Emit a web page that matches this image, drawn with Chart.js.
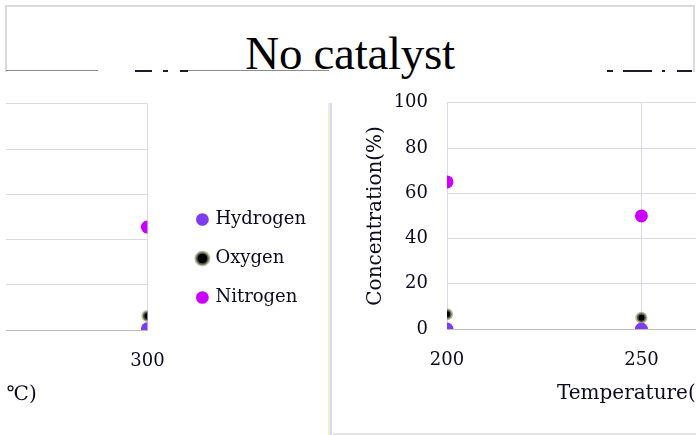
<!DOCTYPE html>
<html>
<head>
<meta charset="utf-8">
<script src="https://cdn.jsdelivr.net/npm/chart.js@4"></script>
<style>
  html, body { margin: 0; padding: 0; background: #fff; }
  body { width: 696px; height: 435px; position: relative; overflow: hidden; }
  .titlebox { position: absolute; left: 5px; top: 5px; width: 686px; height: 65px;
              border: 2px solid #dadada; border-bottom: none; }
  .title { position: absolute; left: 5px; width: 690px; top: 26px; line-height: 47px;
           text-align: center; font: 47px "Liberation Serif", serif; color: #000; letter-spacing: -0.3px; }
  .rule { position: absolute; height: 1px; background: #8c8c8c; top: 70px; }
  .frag { position: absolute; height: 2px; background: #1c1c2c; top: 70px; }
  .clip { position: absolute; overflow: hidden; }
  .clip canvas { position: absolute; top: 0; }
  .divider { position: absolute; left: 328px; top: 103px; width: 4px; height: 332px;
             background: linear-gradient(to right, #efeed4 0 2px, #d8d8ee 2px 4px); }
  .boxline { position: absolute; left: 333px; top: 433px; width: 363px; height: 2px; background: #e4e4e4; }
</style>
</head>
<body>
<div class="titlebox"></div>
<div class="title">No catalyst</div>
<div class="rule" style="left:6px;width:92px"></div>
<div class="rule" style="left:187px;width:142px"></div>
<div class="frag" style="left:135px;width:17px"></div>
<div class="frag" style="left:163px;width:5px"></div>
<div class="frag" style="left:180px;width:8px"></div>
<div class="frag" style="left:607px;width:6px"></div>
<div class="frag" style="left:623px;width:29px"></div>
<div class="frag" style="left:662px;width:3px"></div>
<div class="frag" style="left:677px;width:15px"></div>

<div class="clip" style="left:6px;top:93px;width:322px;height:342px">
  <canvas id="left" width="687" height="341" style="left:-363px;width:687px;height:341px"></canvas>
</div>
<div class="divider"></div>
<div class="clip" style="left:332px;top:92px;width:364px;height:341px">
  <canvas id="right" width="520" height="341" style="left:1px;width:520px;height:341px"></canvas>
</div>
<div class="boxline"></div>

<script>
// ── Dados ──
const temps    = [200, 250, 300];
const hydrogen = [0, 0, 0.5];
const oxygen   = [6.5, 5, 6.2];
const nitrogen = [65, 50, 45.5];
const seriesNames = ['Hydrogen', 'Oxygen', 'Nitrogen'];
const xTicks = [200, 250, 300];
const yTicks = [0, 20, 40, 60, 80, 100];

const TEXT = '#0a0a22';
const SERIF = '"DejaVu Serif", serif';

// ── Estilo das séries ──
const styles = [
  { bg: '#7d3cf0', border: '#7d3cf0', r: 6.5, bw: 0 },
  { bg: '#000000', border: 'rgba(140,140,100,0.65)', r: 4.5, bw: 3 },
  { bg: '#cc00ff', border: '#cc00ff', r: 6.5, bw: 0 },
];

function buildDatasets() {
  return [hydrogen, oxygen, nitrogen].map((vals, i) => ({
    label: seriesNames[i],
    data: temps.map((t, k) => ({ x: t, y: vals[k] })),
    backgroundColor: styles[i].bg,
    borderColor: styles[i].border,
    borderWidth: styles[i].bw,
    pointRadius: styles[i].r,
    pointHoverRadius: styles[i].r,
    pointStyle: 'circle',
  }));
}

// empurra a legenda (Chart.js não tem margem entre área do gráfico e legenda)
const legendNudge = {
  id: 'legendNudge',
  afterLayout(chart, args, opts) {
    const lg = chart.legend;
    if (!lg || !lg.options.display) return;
    lg.left += opts.dx || 0; lg.right += opts.dx || 0;
    lg.top += opts.dy || 0; lg.bottom += opts.dy || 0;
  }
};

function makeChart(id, withLegend, padRight) {
  return new Chart(document.getElementById(id), {
    type: 'scatter',
    data: { datasets: buildDatasets() },
    plugins: [legendNudge],
    options: {
      responsive: false,
      animation: false,
      layout: { padding: { top: 0, right: padRight, bottom: 0, left: 0 } },
      plugins: {
        tooltip: { enabled: false },
        legendNudge: { dx: 30, dy: -5 },
        legend: {
          display: withLegend,
          position: 'right',
          labels: {
            usePointStyle: true,
            pointStyle: 'circle',
            boxWidth: 8,
            boxHeight: 9,
            padding: 21,
            color: TEXT,
            font: { family: SERIF, size: 18 },
          },
        },
      },
      scales: {
        x: {
          type: 'linear',
          min: 200, max: 300,
          afterBuildTicks: s => { s.ticks = xTicks.map(v => ({ value: v })); },
          afterFit: s => { s.height = 104; },
          grid: { color: '#d9d9f0', drawTicks: true, tickLength: 21, tickColor: 'rgba(0,0,0,0)' },
          border: { color: '#bdbdbd', width: 1 },
          ticks: { color: TEXT, font: { family: SERIF, size: 18 }, padding: 0 },
          title: {
            display: true, text: 'Temperature(℃)', color: TEXT,
            font: { family: SERIF, size: 20 }, padding: { top: 0, bottom: 27 },
          },
        },
        y: {
          min: 0, max: 100,
          afterBuildTicks: s => { s.ticks = yTicks.map(v => ({ value: v })); },
          afterFit: s => { s.width = 114; },
          grid: { color: '#dadada', drawTicks: true, tickLength: 19, tickColor: 'rgba(0,0,0,0)' },
          border: { display: false },
          ticks: { color: TEXT, font: { family: SERIF, size: 18 }, padding: 0 },
          title: {
            display: true, text: 'Concentration(%)', color: TEXT,
            font: { family: SERIF, size: 20 }, padding: { top: 31, bottom: 0 },
          },
        },
      },
    },
  });
}

makeChart('left', true, 44);
makeChart('right', false, 17);
</script>
</body>
</html>
